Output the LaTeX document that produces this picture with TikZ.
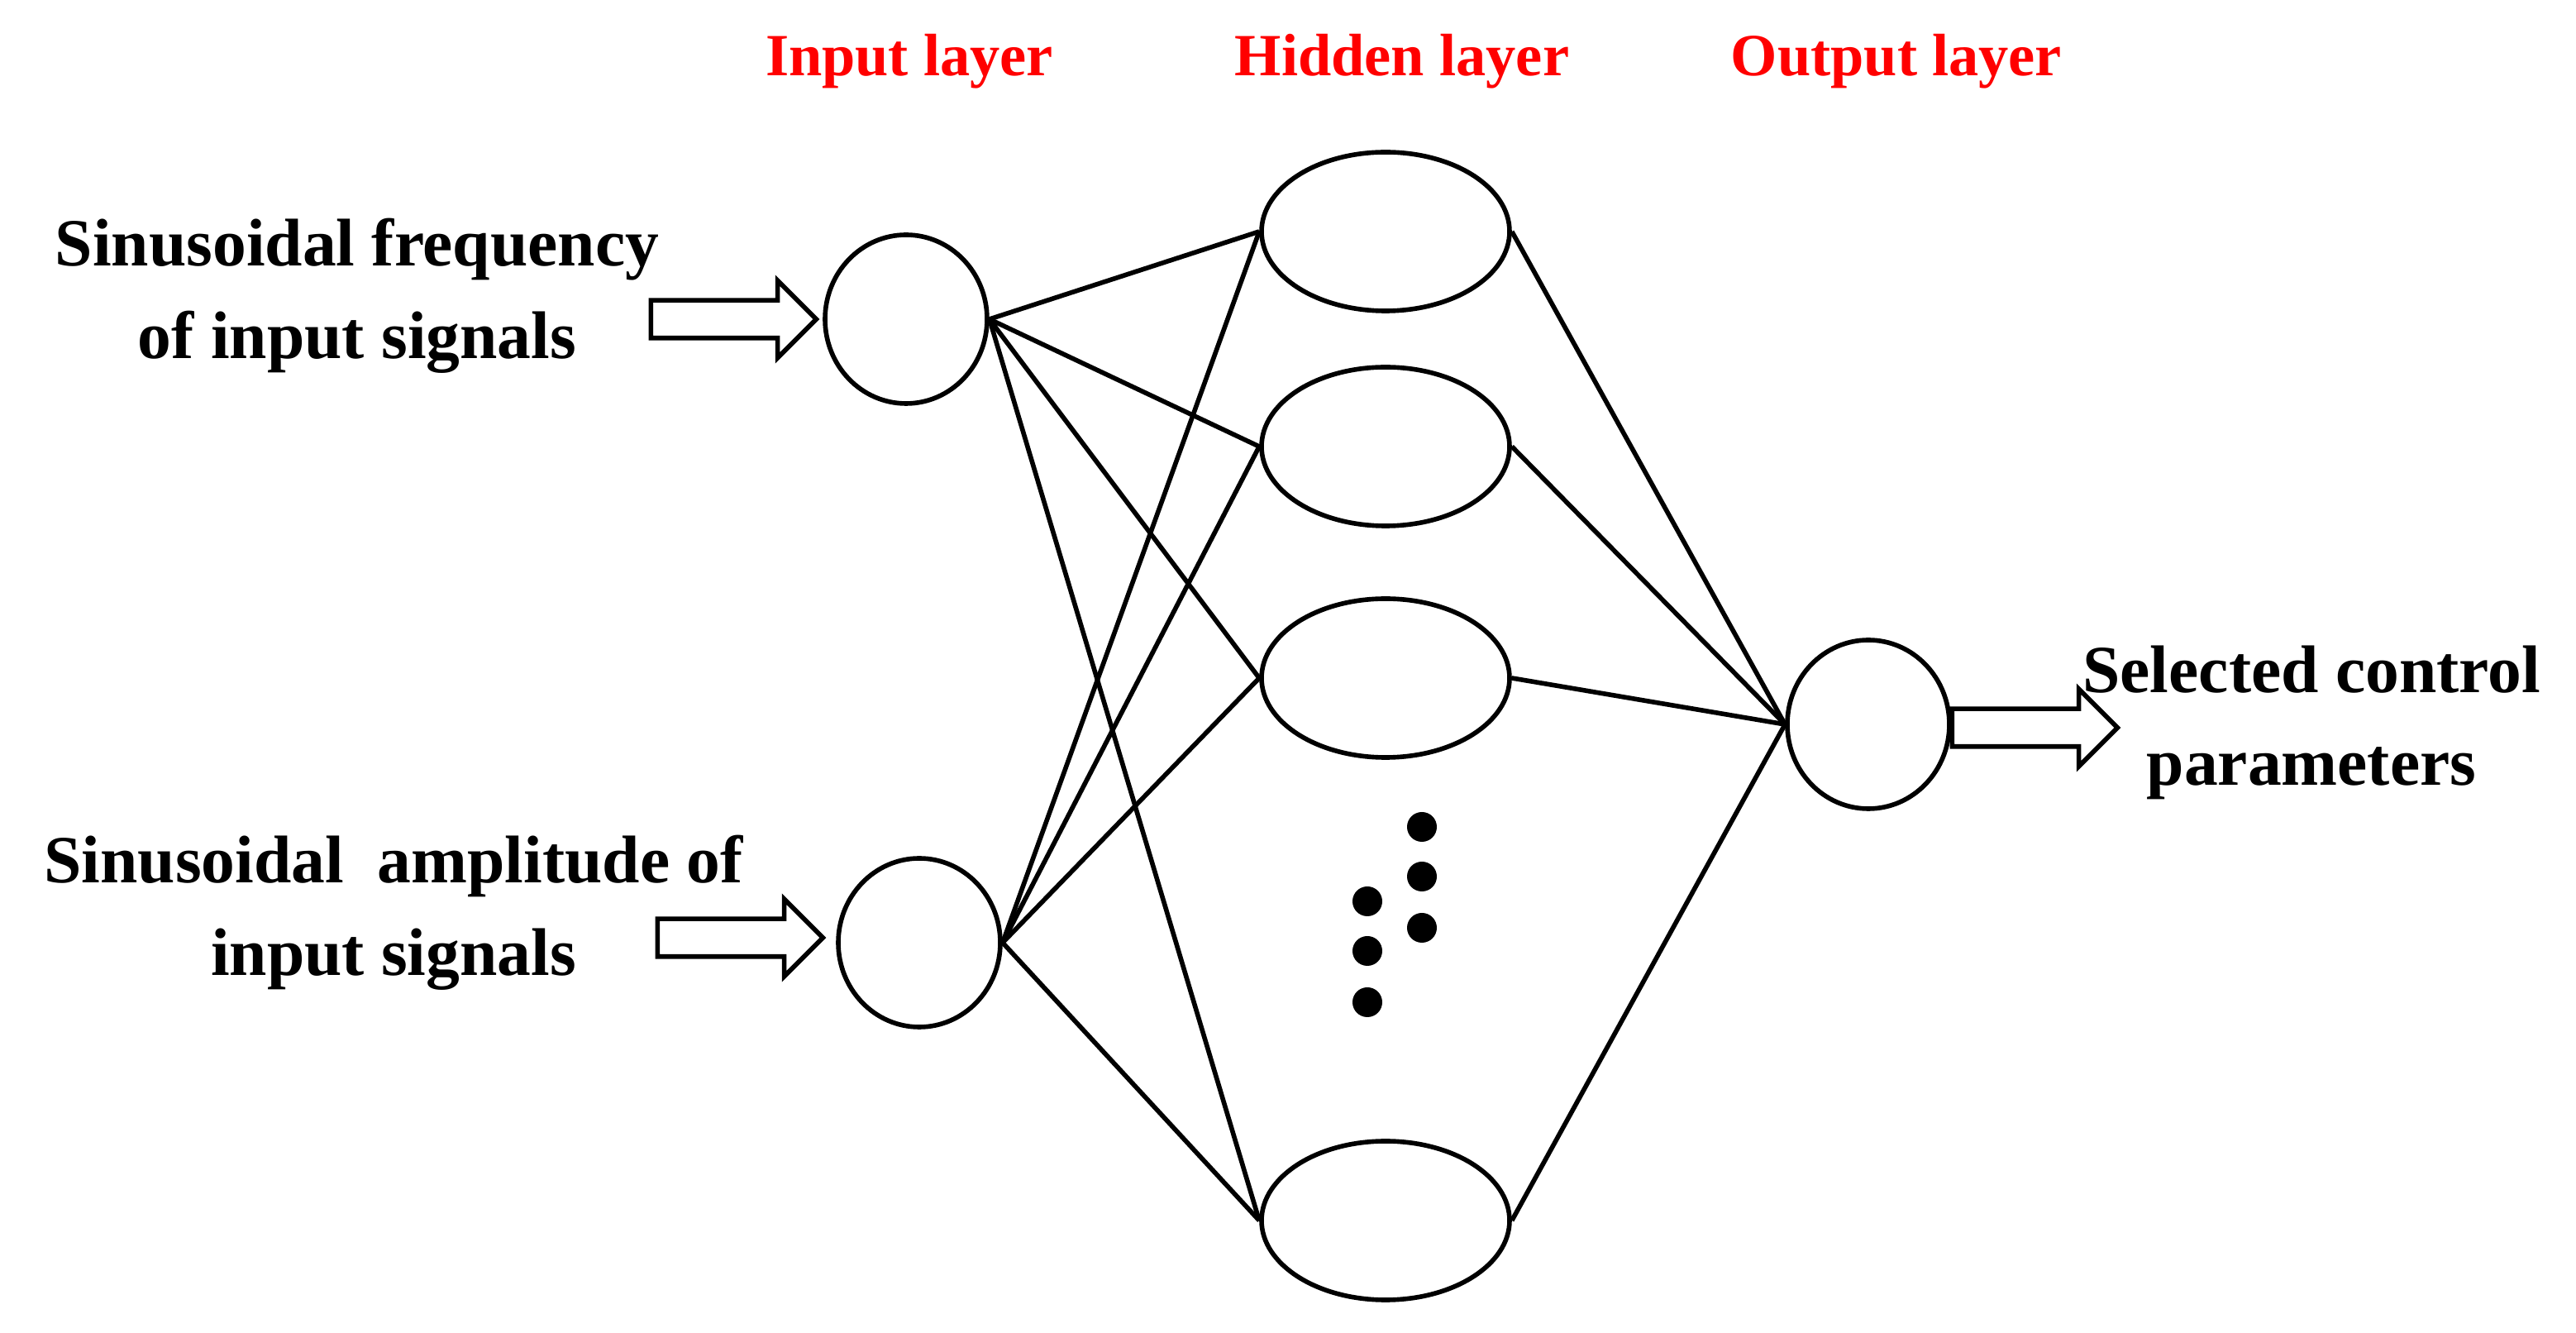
\documentclass[tikz,border=0pt]{standalone}
\usepackage{fontspec}
\setmainfont{Liberation Serif}
\usetikzlibrary{shapes.geometric, shapes.arrows, positioning}

\begin{document}
\begin{tikzpicture}[
    % Define the style for each block
    neuron/.style={ellipse, draw, thick, inner sep=0pt},
    innode/.style={neuron, minimum width=0.98cm, minimum height=1.02cm},
    hidnode/.style={neuron, minimum width=1.5cm, minimum height=0.96cm},
    layertitle/.style={text=red, font=\bfseries\fontsize{10.3}{12}\selectfont},
    sidetext/.style={align=center, font=\bfseries\fontsize{11.6}{16}\selectfont},
    bigarrow/.style={single arrow, draw, thick, minimum height=1.0cm, minimum width=0.46cm, single arrow head extend=0.12cm, inner sep=0.1cm},
    dot/.style={circle, fill=black, minimum size=0.18cm, inner sep=0pt},
    connector/.style={thick}
]
\useasboundingbox (0,0) rectangle (15.58,-8.06);

% Place nodes using explicit positioning
\node [layertitle] (Tin) at (5.50,-0.37) {Input layer};
\node [layertitle] (Thid) at (8.48,-0.37) {Hidden layer};
\node [layertitle] (Tout) at (11.47,-0.37) {Output layer};

\node [innode] (In1) at (5.48,-1.93) {};
\node [innode] (In2) at (5.56,-5.70) {};

\node [hidnode] (H1) at (8.38,-1.40) {};
\node [hidnode] (H2) at (8.38,-2.70) {};
\node [hidnode] (H3) at (8.38,-4.10) {};
\node [hidnode] (H4) at (8.38,-7.38) {};

\node [innode] (Out) at (11.30,-4.38) {};

\node [sidetext] (Freq) at (2.16,-1.79) {Sinusoidal frequency\\of input signals};
\node [sidetext] (Amp) at (2.38,-5.52) {Sinusoidal\ \ amplitude of\\input signals};
\node [sidetext] (Sel) at (13.98,-4.37) {Selected control\\parameters};

\node [bigarrow] (A1) at (4.38,-1.93) {};
\node [bigarrow] (A2) at (4.42,-5.67) {};
\node [bigarrow] (A3) at (12.25,-4.40) {};

\node [dot] (D1) at (8.60,-5.00) {};
\node [dot] (D2) at (8.60,-5.30) {};
\node [dot] (D3) at (8.60,-5.61) {};
\node [dot] (D4) at (8.27,-5.45) {};
\node [dot] (D5) at (8.27,-5.75) {};
\node [dot] (D6) at (8.27,-6.06) {};

% Draw connectors
\foreach \h in {H1, H2, H3, H4} {
    \draw [connector] (In1.east) -- (\h.west);
    \draw [connector] (In2.east) -- (\h.west);
    \draw [connector] (\h.east) -- (Out.west);
}
\end{tikzpicture}
\end{document}
